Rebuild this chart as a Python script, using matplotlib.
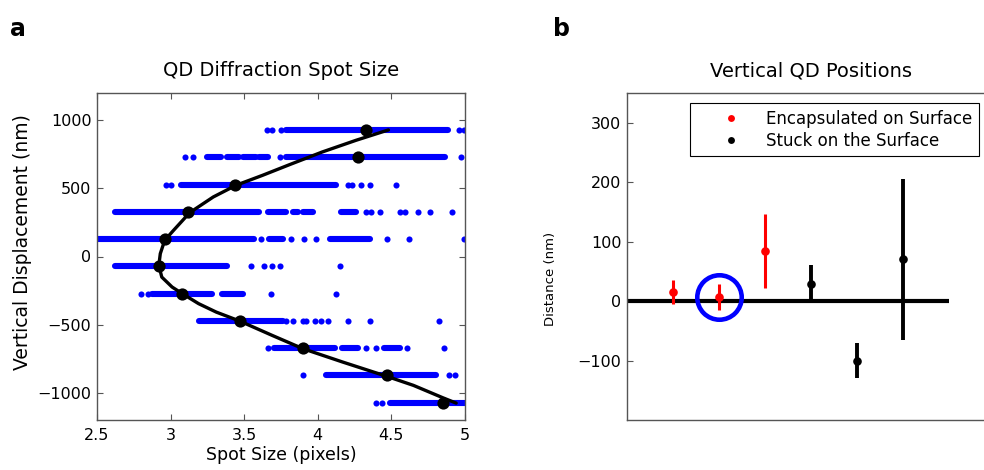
import matplotlib.pyplot as plt

plt.rcParams['font.family'] = 'DejaVu Sans'

# panel a: spot size measured at each vertical stage position
row_z = [927, 727, 527, 327, 127, -73, -273, -473, -673, -873, -1073]

# stretches where the spot measurements overlap into a solid band (start, end)
spot_runs = [
    [(3.784, 4.886)],
    [(3.25, 3.341), (3.386, 3.466), (3.489, 3.58), (3.602, 3.659), (3.784, 4.864)],
    [(3.068, 4.125)],
    [(2.625, 3.60), (3.659, 3.784), (3.83, 3.863), (3.897, 3.966), (4.159, 4.261)],
    [(2.48, 3.568), (3.67, 3.761), (4.08, 4.352)],
    [(2.625, 3.386)],
    [(2.875, 3.284), (3.35, 3.49)],
    [(3.193, 3.761)],
    [(3.705, 4.114), (4.166, 4.273), (4.448, 4.557)],
    [(4.057, 4.80)],
    [(4.488, 5.02)],
]

# isolated spot measurements on each row
spot_single = [
    [3.652, 3.689, 3.75, 4.961, 4.995],
    [3.098, 3.152, 3.745, 4.97],
    [2.97, 3.0, 4.204, 4.234, 4.295, 4.357, 4.534],
    [4.33, 4.364, 4.42, 4.557, 4.591, 4.682, 4.761, 4.909],
    [3.614, 3.818, 3.909, 3.989, 4.473, 4.618, 4.995],
    [3.546, 3.636, 3.689, 3.745, 4.148],
    [2.796, 2.845, 3.682, 4.125],
    [3.784, 3.829, 3.897, 3.92, 3.984, 4.025, 4.068, 4.204, 4.352, 4.825],
    [3.659, 4.325, 4.393, 4.609, 4.854],
    [3.902, 4.893, 4.93],
    [4.393, 4.439],
]

# mean spot size per row
mean_size = [4.33, 4.27, 3.44, 3.12, 2.96, 2.92, 3.08, 3.47, 3.90, 4.47, 4.85]

# calibration curve
fit_size = [4.48, 4.26, 4.03, 3.81, 3.625, 3.445, 3.29, 3.13, 3.02, 2.96, 2.93,
            2.92, 2.94, 3.01, 3.08, 3.19, 3.31, 3.47, 3.69, 3.90, 4.17, 4.47,
            4.65, 4.85, 4.94]
fit_z = [929, 853, 767, 675, 596, 523, 437, 322, 192, 119, 21,
         -65, -151, -224, -273, -346, -408, -474, -579, -677, -775, -880,
         -946, -1037, -1076]

# panel b: vertical positions of single QDs
enc_x = [1, 2, 3]
enc_y = [15, 7, 84]
enc_err = [20, 22, 62]
stuck_x = [4, 5, 6]
stuck_y = [29, -100, 70]
stuck_err = [32, 30, 135]
surface_x = [0, 7]
circled = 1  # index into the encapsulated set

spine_col = '#555555'
dot_pt = 4.4

fig = plt.figure(figsize=(9.84, 4.70), dpi=100)

# ---- panel a
ax1 = fig.add_axes([97 / 984, 50 / 470, 368 / 984, 327 / 470])
for z, runs, singles in zip(row_z, spot_runs, spot_single):
    for a, b in runs:
        ax1.plot([a, b], [z, z], color='blue', lw=dot_pt, solid_capstyle='round')
    ax1.plot(singles, [z] * len(singles), 'o', color='blue', ms=dot_pt, mew=0)
ax1.plot(fit_size, fit_z, color='black', lw=2.4, solid_capstyle='round',
         solid_joinstyle='round')
ax1.plot(mean_size, row_z, 'o', color='black', ms=8.8, mew=0)

ax1.set_xlim(2.5, 5)
ax1.set_ylim(-1200, 1200)
ax1.set_xticks([2.5, 3, 3.5, 4, 4.5, 5])
ax1.set_xticklabels(['2.5', '3', '3.5', '4', '4.5', '5'])
ax1.set_yticks([-1000, -500, 0, 500, 1000])
ax1.tick_params(direction='in', top=True, right=True, length=4, width=0.8,
                color=spine_col, labelsize=11.5)
ax1.tick_params(axis='x', pad=6)
ax1.tick_params(axis='y', pad=4)
ax1.set_title('QD Diffraction Spot Size', fontsize=14, pad=12)
ax1.set_xlabel('Spot Size (pixels)', fontsize=12.5, labelpad=2)
ax1.set_ylabel('Vertical Displacement (nm)', fontsize=13.5)
ax1.yaxis.set_label_coords(-0.177, 0.544)
for s in ax1.spines.values():
    s.set_color(spine_col)
    s.set_linewidth(1.0)

# ---- panel b
ax2 = fig.add_axes([627 / 984, 50 / 470, 368 / 984, 327 / 470])
ax2.plot(surface_x, [0, 0], color='black', lw=3, solid_capstyle='butt')
ax2.errorbar(enc_x, enc_y, yerr=enc_err, fmt='none', ecolor='red',
             elinewidth=2.2, capsize=0)
ax2.errorbar(stuck_x, stuck_y, yerr=stuck_err, fmt='none', ecolor='black',
             elinewidth=2.8, capsize=0)
ax2.plot(enc_x, enc_y, 'o', color='red', ms=6.2, mew=0,
         label='Encapsulated on Surface')
ax2.plot(stuck_x, stuck_y, 'o', color='black', ms=6.2, mew=0,
         label='Stuck on the Surface')
ax2.plot(enc_x[circled], enc_y[circled], 'o', mfc='none', mec='blue',
         ms=32, mew=3.3)

ax2.set_xlim(0, 8)
ax2.set_ylim(-200, 350)
ax2.set_xticks([])
ax2.set_yticks([-100, 0, 100, 200, 300])
ax2.tick_params(axis='y', direction='in', length=4, width=0.8,
                color=spine_col, labelsize=11.5, pad=4)
ax2.set_title('Vertical QD Positions', fontsize=14, pad=12)
ax2.set_ylabel('Distance (nm)', fontsize=9.5)
ax2.yaxis.set_label_coords(-0.19, 0.431)
for s in ax2.spines.values():
    s.set_color(spine_col)
    s.set_linewidth(1.0)

leg = ax2.legend(loc='upper left', bbox_to_anchor=(0.171, 0.969),
                 borderaxespad=0, fontsize=12, handlelength=4.1,
                 handletextpad=0.05, borderpad=0.4, labelspacing=0.24,
                 fancybox=False, framealpha=1, edgecolor='black', markerscale=0.8)
leg.get_frame().set_linewidth(0.8)

fig.text(0.010, 0.923, 'a', fontsize=17, fontweight='bold')
fig.text(0.562, 0.923, 'b', fontsize=17, fontweight='bold')

fig.savefig('out.png', dpi=100)
